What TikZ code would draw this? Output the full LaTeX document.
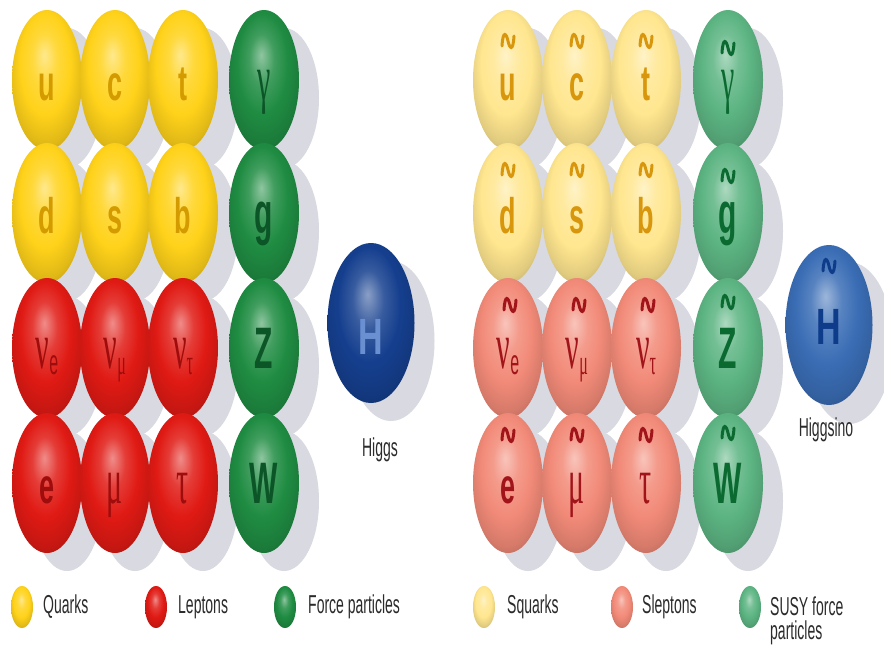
\documentclass[tikz,border=0pt]{standalone}
\usepackage{fontspec}
\setmainfont{Liberation Sans}
\newfontfamily\grk{Liberation Serif}
\usetikzlibrary{shapes.geometric}
\definecolor{cYel}{HTML}{FFD21A}
\definecolor{cRed}{HTML}{E01A14}
\definecolor{cGrn}{HTML}{1F8C42}
\definecolor{cBlu}{HTML}{153F8E}
\definecolor{cPYel}{HTML}{FFE68F}
\definecolor{cSal}{HTML}{F28A78}
\definecolor{cLGrn}{HTML}{5CB482}
\definecolor{cLBlu}{HTML}{3A6DB5}
\definecolor{tYel}{HTML}{D39B00}
\definecolor{tRed}{HTML}{9E0C0C}
\definecolor{tGrn}{HTML}{0C5527}
\definecolor{tBlu}{HTML}{6A90D2}
\definecolor{tPYel}{HTML}{D8960C}
\definecolor{tSal}{HTML}{A0141A}
\definecolor{tLGrn}{HTML}{0B6A30}
\definecolor{tLBlu}{HTML}{0E3C8A}
\definecolor{shadowc}{HTML}{D8D9E1}
\definecolor{labc}{HTML}{2B2B2B}
\makeatletter
\pgfdeclareradialshading[tikz@ball]{sball}{\pgfqpoint{-2bp}{9bp}}{%
 color(0bp)=(tikz@ball!50!white);
 color(9bp)=(tikz@ball!85!white);
 color(18bp)=(tikz@ball);
 color(27bp)=(tikz@ball!88!black);
 color(33bp)=(tikz@ball!72!black);
 color(50bp)=(tikz@ball!72!black)}
\makeatother
\newcommand\LT[1]{\scalebox{1}[1.85]{\fontsize{27}{27}\selectfont\bfseries #1}}
\newcommand\FL[1]{\scalebox{1}[1.95]{\fontsize{30}{30}\selectfont\bfseries #1}}
\newcommand\GK[1]{\scalebox{1}[2.2]{\fontsize{30}{30}\selectfont\grk #1}}
\newcommand\HL[1]{\scalebox{1}[1.5]{\fontsize{34}{34}\selectfont\bfseries #1}}
\newcommand\sbs[1]{\raisebox{-3pt}{\fontsize{16}{16}\selectfont #1}}
\newcommand\LB[1]{\scalebox{1}[1.85]{\fontsize{14}{14}\selectfont #1}}
\tikzset{
  sph/.style={ellipse, minimum width=70pt, minimum height=140pt, inner sep=0pt, ball color=#1, shading=sball},
  sphbig/.style={ellipse, minimum width=87pt, minimum height=160pt, inner sep=0pt, ball color=#1, shading=sball},
  sphleg/.style={ellipse, minimum width=22pt, minimum height=42pt, inner sep=0pt, ball color=#1, shading=sball},
  lt/.style={anchor=base, inner sep=0pt, text=#1},
  lab/.style={anchor=west, inner sep=0pt, text=labc},
  tld/.style={line width=3pt, line cap=round, draw=#1},
}
\newcommand\ballnode[7]{\node[#2=#5] (#1) at (#3,#4) {}; \node[lt=#6] (#1-t) at (#3,#4+20) {#7};}
\newcommand\tildeat[3]{\draw[tld=#3, shift={(#1,#2)}] (-6,5) .. controls (-5,-12) and (-1.5,-7) .. (0,0) .. controls (1.5,7) and (5,12) .. (6,-5);}
\begin{document}
\begin{tikzpicture}[x=1pt,y=-1pt]
\useasboundingbox (0,0) rectangle (884,645);
\fill[white] (0,0) rectangle (884,645);
% shadows
\foreach \x in {47,115,183,264,508,577,646,728}
  \foreach \y in {80,213,348,483}
    \fill[shadowc] (\x+20,\y+18) ellipse (35pt and 70pt);
\fill[shadowc] (391,341) ellipse (43.5pt and 80pt);
\fill[shadowc] (849,343) ellipse (44pt and 81pt);
% ---------- left panel ----------
\ballnode{u}{sph}{47}{80}{cYel}{tYel}{\LT{u}}
\ballnode{c}{sph}{115}{80}{cYel}{tYel}{\LT{c}}
\ballnode{t}{sph}{183}{80}{cYel}{tYel}{\LT{t}}
\ballnode{gam}{sph}{264}{80}{cGrn}{tGrn}{\GK{γ}}
\ballnode{d}{sph}{47}{213}{cYel}{tYel}{\LT{d}}
\ballnode{s}{sph}{115}{213}{cYel}{tYel}{\LT{s}}
\ballnode{b}{sph}{183}{213}{cYel}{tYel}{\LT{b}}
\ballnode{g}{sph}{264}{213}{cGrn}{tGrn}{\FL{g}}
\ballnode{nue}{sph}{47}{348}{cRed}{tRed}{\GK{ν\sbs{\normalfont e}}}
\ballnode{num}{sph}{115}{348}{cRed}{tRed}{\GK{ν\sbs{μ}}}
\ballnode{nut}{sph}{183}{348}{cRed}{tRed}{\GK{ν\sbs{τ}}}
\ballnode{Z}{sph}{264}{348}{cGrn}{tGrn}{\FL{Z}}
\ballnode{e}{sph}{47}{483}{cRed}{tRed}{\LT{e}}
\ballnode{mu}{sph}{115}{483}{cRed}{tRed}{\GK{μ}}
\ballnode{tau}{sph}{183}{483}{cRed}{tRed}{\GK{τ}}
\ballnode{W}{sph}{264}{483}{cGrn}{tGrn}{\FL{W}}
\node[sphbig=cBlu] (H) at (371,323) {};
\node[lt=tBlu] (H-t) at (371,354) {\HL{H}};
\node[text=labc, inner sep=0pt] (higgslab) at (380,450) {\LB{Higgs}};
% ---------- right panel ----------
\ballnode{su}{sph}{508}{80}{cPYel}{tPYel}{\LT{u}}
\ballnode{sc}{sph}{577}{80}{cPYel}{tPYel}{\LT{c}}
\ballnode{st}{sph}{646}{80}{cPYel}{tPYel}{\LT{t}}
\ballnode{sgam}{sph}{728}{80}{cLGrn}{tLGrn}{\GK{γ}}
\ballnode{sd}{sph}{508}{213}{cPYel}{tPYel}{\LT{d}}
\ballnode{ss}{sph}{577}{213}{cPYel}{tPYel}{\LT{s}}
\ballnode{sb}{sph}{646}{213}{cPYel}{tPYel}{\LT{b}}
\ballnode{sg}{sph}{728}{213}{cLGrn}{tLGrn}{\FL{g}}
\ballnode{snue}{sph}{508}{348}{cSal}{tSal}{\GK{ν\sbs{\normalfont e}}}
\ballnode{snum}{sph}{577}{348}{cSal}{tSal}{\GK{ν\sbs{μ}}}
\ballnode{snut}{sph}{646}{348}{cSal}{tSal}{\GK{ν\sbs{τ}}}
\ballnode{sZ}{sph}{728}{348}{cLGrn}{tLGrn}{\FL{Z}}
\ballnode{se}{sph}{508}{483}{cSal}{tSal}{\LT{e}}
\ballnode{smu}{sph}{577}{483}{cSal}{tSal}{\GK{μ}}
\ballnode{stau}{sph}{646}{483}{cSal}{tSal}{\GK{τ}}
\ballnode{sW}{sph}{728}{483}{cLGrn}{tLGrn}{\FL{W}}
\node[sphbig=cLBlu] (sH) at (829,325) {};
\node[lt=tLBlu] (sH-t) at (829,344) {\HL{H}};
\node[text=labc, inner sep=0pt] (higgsinolab) at (826,430) {\LB{Higgsino}};
% tildes
\tildeat{508}{41}{tPYel}
\tildeat{577}{41}{tPYel}
\tildeat{646}{41}{tPYel}
\tildeat{728}{48}{tLGrn}
\tildeat{508}{170}{tPYel}
\tildeat{577}{170}{tPYel}
\tildeat{646}{170}{tPYel}
\tildeat{728}{176}{tLGrn}
\tildeat{510}{305}{tSal}
\tildeat{579}{305}{tSal}
\tildeat{648}{305}{tSal}
\tildeat{728}{302}{tLGrn}
\tildeat{508}{435}{tSal}
\tildeat{577}{435}{tSal}
\tildeat{646}{435}{tSal}
\tildeat{728}{433}{tLGrn}
\tildeat{829}{266}{tLBlu}
% ---------- legends ----------
\node[sphleg=cYel] (lq) at (22,607) {};
\node[lab] (lqt) at (43,607) {\LB{Quarks}};
\node[sphleg=cRed] (ll) at (156,607) {};
\node[lab] (llt) at (178,607) {\LB{Leptons}};
\node[sphleg=cGrn] (lf) at (285,607) {};
\node[lab] (lft) at (308,607) {\LB{Force particles}};
\node[sphleg=cPYel] (rq) at (484,607) {};
\node[lab] (rqt) at (507,607) {\LB{Squarks}};
\node[sphleg=cSal] (rl) at (622,607) {};
\node[lab] (rlt) at (642,607) {\LB{Sleptons}};
\node[sphleg=cLGrn] (rf) at (750,607) {};
\node[lab] (rft) at (770,606) {\LB{SUSY force}};
\node[lab] (rft2) at (770,633) {\LB{particles}};
\end{tikzpicture}
\end{document}
